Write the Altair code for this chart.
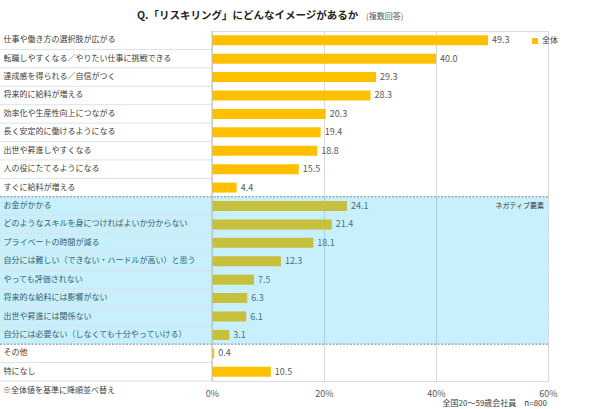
import altair as alt
import pandas as pd

categories = [
    "仕事や働き方の選択肢が広がる",
    "転職しやすくなる／やりたい仕事に挑戦できる",
    "達成感を得られる／自信がつく",
    "将来的に給料が増える",
    "効率化や生産性向上につながる",
    "長く安定的に働けるようになる",
    "出世や昇進しやすくなる",
    "人の役にたてるようになる",
    "すぐに給料が増える",
    "お金がかかる",
    "どのようなスキルを身につければよいか分からない",
    "プライベートの時間が減る",
    "自分には難しい（できない・ハードルが高い）と思う",
    "やっても評価されない",
    "将来的な給料には影響がない",
    "出世や昇進には関係ない",
    "自分には必要ない（しなくても十分やっていける）",
    "その他",
    "特になし",
]
values = [49.3, 40.0, 29.3, 28.3, 20.3, 19.4, 18.8, 15.5, 4.4,
          24.1, 21.4, 18.1, 12.3, 7.5, 6.3, 6.1, 3.1,
          0.4, 10.5]
negative = [False] * 9 + [True] * 8 + [False] * 2
series_name = "全体"
x_ticks = [0, 20, 40, 60]

title_text = "Q.「リスキリング」にどんなイメージがあるか"
title_note = "(複数回答)"
neg_label = "ネガティブ要素"
foot_left = "※全体値を基準に降順並べ替え"
foot_right = "全国20～59歳会社員　n=800"

FONT = "Noto Sans CJK JP"

df = pd.DataFrame({
    "cat": categories,
    "value": values,
    "neg": negative,
    "series": series_name,
    "idx": list(range(len(categories))),
})

W, H = 336, 350
ysc = alt.Scale(paddingInner=0, paddingOuter=0)
yenc = alt.Y("cat:N", sort=categories, scale=ysc,
             axis=alt.Axis(title=None, ticks=False, tickSize=0, domain=False,
                           labelAlign="left", labelPadding=209, labelLimit=230,
                           labelFontSize=8, labelColor="#404040", labelFont=FONT))

base = alt.Chart(df)

bars = base.mark_bar(size=10).encode(
    y=yenc,
    x=alt.X("value:Q", scale=alt.Scale(domain=[0, 60], nice=False),
            axis=alt.Axis(title=None, values=x_ticks, labelExpr="datum.value + '%'",
                          domain=False, ticks=False, grid=True, gridColor="#D9D9D9",
                          labelFlush=False, labelPadding=8, labelFontSize=9,
                          labelColor="#595959", labelFont=FONT)),
    color=alt.Color("series:N", scale=alt.Scale(range=["#FFC000"]),
                    legend=alt.Legend(title=None, orient="none", legendX=319, legendY=6,
                                      symbolType="square", symbolSize=36,
                                      symbolStrokeWidth=0, labelFontSize=8,
                                      labelFont=FONT, labelColor="#404040",
                                      labelOffset=3)),
)

vals = base.mark_text(align="left", baseline="middle", dx=4, fontSize=9,
                      font=FONT, color="#595959").encode(
    y=alt.Y("cat:N", sort=categories),
    x="value:Q",
    text=alt.Text("value:Q", format=".1f"),
)

overlay = base.transform_filter("datum.neg").mark_rect(
    color="#1EBEF5", opacity=0.25).encode(
    y=alt.Y("cat:N", sort=categories),
    x=alt.value(-212), x2=alt.value(W),
)

seps = base.transform_filter("datum.idx != 8 && datum.idx != 16").mark_rule(
    color="#DCE2E5", strokeWidth=1).encode(
    y=alt.Y("cat:N", sort=categories, bandPosition=1),
    x=alt.value(-212), x2=alt.value(0),
)

dashed = base.transform_filter("datum.idx == 8 || datum.idx == 16").mark_rule(
    color="#7A8A94", strokeWidth=1, strokeDash=[2, 1.5]).encode(
    y=alt.Y("cat:N", sort=categories, bandPosition=1),
    x=alt.value(-212), x2=alt.value(W),
)

zero_line = alt.Chart(pd.DataFrame({"v": [0]})).mark_rule(color="#BFBFBF").encode(
    x="v:Q", y=alt.value(0), y2=alt.value(H))


def label(text, x, y, size, align="left", weight="normal", color="#404040"):
    return alt.Chart(pd.DataFrame({"t": [text]})).mark_text(
        align=align, baseline="middle", fontSize=size, font=FONT,
        fontWeight=weight, color=color).encode(
        text="t:N", x=alt.value(x), y=alt.value(y))


texts = [
    label(title_text, -75, -15, 10.5, weight="bold", color="#222222"),
    label(title_note, 154, -14, 8, color="#595959"),
    label(neg_label, 332, 175, 7, align="right", color="#333333"),
    label(foot_left, -209, 360, 8, color="#404040"),
    label(foot_right, 335, 373, 8, align="right", color="#404040"),
]

chart = alt.layer(bars, vals, overlay, seps, dashed, zero_line, *texts).properties(
    width=W, height=H,
    autosize=alt.AutoSizeParams(type="none"),
    padding={"left": 212, "top": 31, "right": 42, "bottom": 28},
).configure_view(stroke=None).configure(background="white")

chart.save("out.html", embed_options={"renderer": "svg", "actions": False})
